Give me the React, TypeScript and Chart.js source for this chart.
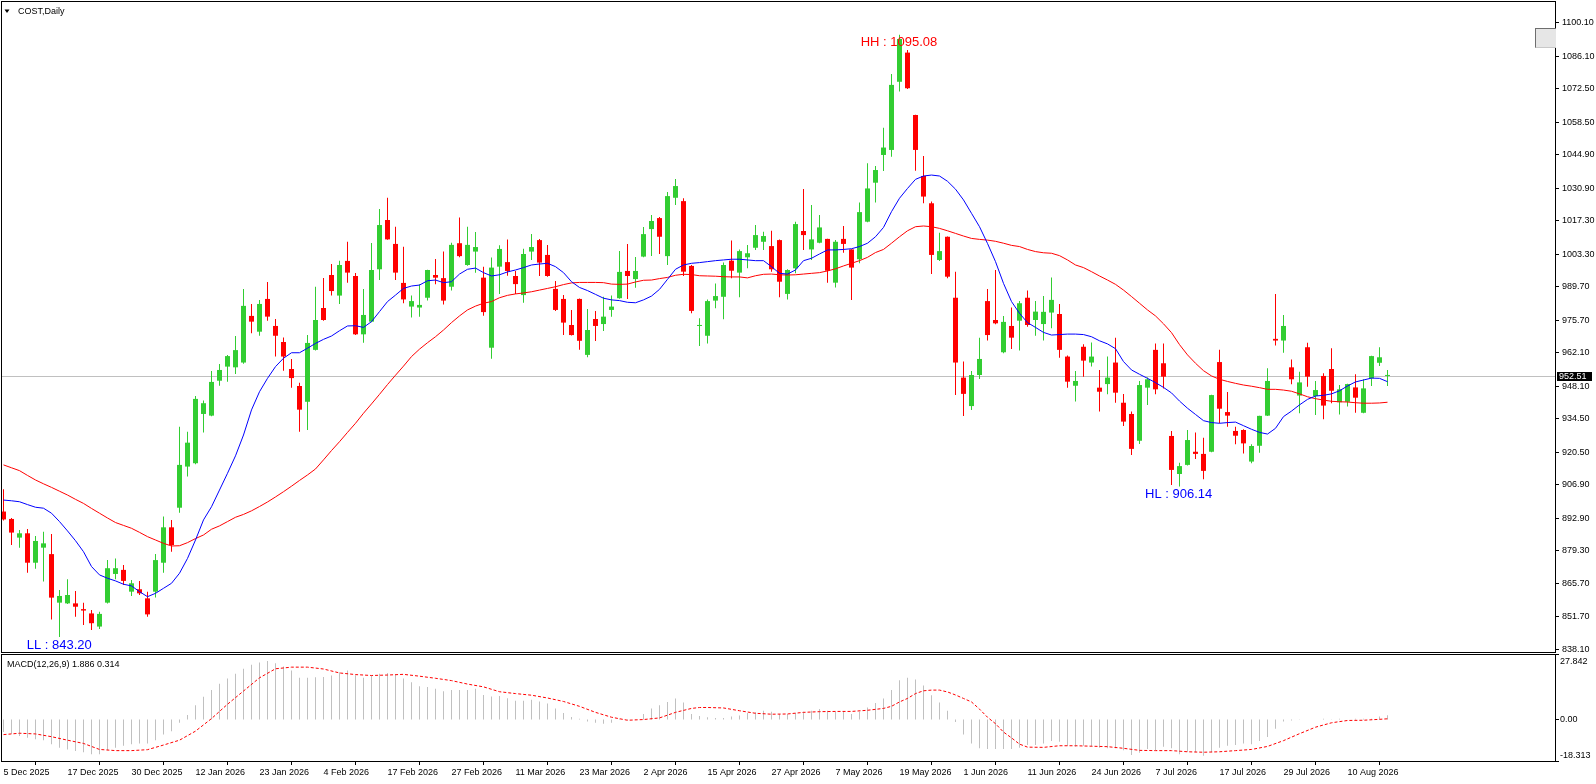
import React, { useEffect, useRef } from 'react';
import Chart from 'chart.js/auto';

const FONT = "'Liberation Sans', Arial, sans-serif";
const BULL = '#32CD32';
const BEAR = '#FF0000';

// one date label every 8 bars, starting at bar 0
const dateTicks = [
  '5 Dec 2025', '17 Dec 2025', '30 Dec 2025', '12 Jan 2026', '23 Jan 2026', '4 Feb 2026',
  '17 Feb 2026', '27 Feb 2026', '11 Mar 2026', '23 Mar 2026', '2 Apr 2026', '15 Apr 2026',
  '27 Apr 2026', '7 May 2026', '19 May 2026', '1 Jun 2026', '11 Jun 2026', '24 Jun 2026',
  '7 Jul 2026', '17 Jul 2026', '29 Jul 2026', '10 Aug 2026',
];

const priceTicks = [
  1100.1, 1086.1, 1072.5, 1058.5, 1044.9, 1030.9, 1017.3, 1003.3, 989.7, 975.7,
  962.1, 948.1, 934.5, 920.5, 906.9, 892.9, 879.3, 865.7, 851.7, 838.1,
];

const macdTicks = [27.842, 0, -18.313];
const macdTickText = ['27.842', '0.00', '-18.313'];

const opens = [
  895.7, 892.6, 884.8, 886.6, 874.3, 880.6, 877.9, 857.6, 857.3, 857.3,
  854.9, 853.1, 847.6, 857.6, 869.6, 871.3, 862.2, 863.2, 859.4, 862.2,
  874.3, 889.1, 897.3, 914.5, 915.9, 936.5, 935.8, 950.4, 956.3, 956.0,
  958.0, 977.5, 970.9, 984.6, 973.3, 966.6, 955.3, 948.2, 941.6, 963.3,
  980.8, 994.6, 986.0, 1000.5, 994.2, 969.8, 975.1, 997.0, 1017.6, 1007.6,
  991.3, 981.4, 981.0, 985.1, 994.6, 993.3, 989.7, 1007.9, 998.8, 1004.4,
  993.5, 964.2, 998.1, 1000.0, 994.2, 986.2, 1004.4, 1009.2, 1003.0, 988.8,
  984.6, 973.7, 984.6, 961.2, 976.2, 974.1, 980.0, 984.9, 996.3, 992.9,
  1002.3, 1013.8, 1018.4, 1002.5, 1026.9, 1025.5, 998.4, 973.3, 969.2, 983.9,
  985.5, 1000.6, 995.6, 1002.0, 1006.0, 1008.5, 1006.7, 1009.2, 986.7, 997.4,
  1013.0, 1005.3, 1008.1, 1009.7, 991.4, 1009.7, 1005.3, 1001.2, 1016.9, 1033.2,
  1044.8, 1046.9, 1075.4, 1087.6, 1061.5, 1036.0, 1024.6, 1000.9, 1010.6, 985.1,
  951.7, 939.8, 952.8, 983.7, 975.8, 962.3, 973.3, 975.5, 985.1, 975.8,
  974.1, 978.9, 978.3, 960.5, 948.3, 964.6, 958.0, 947.5, 949.0, 958.0,
  941.2, 936.5, 925.3, 947.5, 963.3, 957.7, 927.3, 911.4, 915.2, 920.7,
  919.8, 920.7, 958.2, 937.3, 929.4, 929.8, 916.6, 923.2, 935.8, 967.9,
  967.2, 956.0, 944.2, 964.4, 944.0, 952.4, 955.3, 941.4, 941.6, 947.6,
  937.0, 951.4, 957.9, 952.4,
];

const highs = [
  905.0, 893.0, 888.0, 888.4, 885.5, 887.2, 886.3, 862.9, 867.4, 862.5,
  857.6, 854.5, 853.8, 875.4, 876.1, 873.3, 867.1, 866.7, 862.2, 877.9,
  893.6, 892.2, 931.2, 929.1, 944.0, 942.1, 954.5, 957.4, 961.2, 969.1,
  988.8, 982.5, 984.2, 991.7, 976.2, 968.5, 959.5, 949.6, 969.5, 989.7,
  993.4, 999.2, 1000.6, 1008.5, 995.4, 988.8, 1008.0, 1022.2, 1026.9, 1014.8,
  1006.4, 986.0, 990.7, 996.8, 1001.3, 1004.4, 1008.1, 1018.6, 1014.8, 1012.6,
  998.1, 1001.9, 1007.0, 1009.4, 996.3, 1005.6, 1011.7, 1009.7, 1007.2, 992.1,
  986.2, 980.0, 984.8, 980.4, 979.6, 985.5, 986.0, 1004.6, 1007.6, 1002.1,
  1014.7, 1019.7, 1018.9, 1029.3, 1034.7, 1026.7, 998.8, 976.5, 984.4, 991.1,
  999.8, 1009.0, 1005.3, 1007.2, 1015.5, 1012.7, 1013.1, 1009.4, 997.0, 1016.9,
  1030.6, 1023.9, 1019.7, 1009.8, 1009.2, 1015.1, 1005.4, 1024.9, 1041.3, 1040.2,
  1056.2, 1078.7, 1095.08, 1088.7, 1061.6, 1044.4, 1025.3, 1012.3, 1010.7, 996.0,
  958.4, 954.5, 968.4, 988.8, 996.7, 977.5, 981.0, 983.7, 988.1, 983.7,
  985.8, 993.6, 982.5, 960.9, 954.5, 965.6, 966.4, 954.9, 960.5, 968.4,
  944.9, 937.5, 950.3, 951.7, 966.0, 966.0, 929.4, 916.1, 929.8, 928.7,
  926.6, 944.5, 963.3, 945.7, 931.2, 930.1, 923.8, 935.8, 955.6, 986.7,
  977.9, 959.3, 954.2, 966.3, 950.3, 953.5, 964.0, 948.6, 949.1, 953.1,
  951.0, 960.8, 964.4, 954.9,
];

const lows = [
  892.0, 881.7, 880.6, 870.1, 871.8, 866.4, 850.6, 843.2, 857.0, 851.7,
  848.3, 846.2, 846.6, 857.3, 867.4, 865.0, 860.4, 860.8, 851.7, 859.8,
  870.1, 878.9, 895.2, 910.3, 915.5, 928.7, 935.5, 948.3, 950.0, 953.2,
  957.5, 970.2, 969.2, 975.5, 960.5, 954.6, 947.5, 929.1, 929.8, 963.0,
  975.5, 986.0, 982.5, 991.4, 969.5, 966.3, 974.8, 992.5, 1009.3, 992.5,
  982.8, 976.8, 977.2, 983.9, 990.7, 982.3, 988.1, 1002.0, 998.5, 995.6,
  977.6, 959.6, 986.7, 994.3, 986.7, 983.0, 1000.9, 994.2, 993.9, 979.6,
  969.5, 969.3, 963.3, 960.2, 967.0, 971.2, 977.2, 984.7, 984.6, 989.3,
  1002.0, 1002.5, 1003.4, 998.8, 1023.9, 994.2, 978.6, 964.9, 966.0, 980.7,
  976.1, 993.2, 985.3, 997.4, 1005.1, 1005.1, 996.0, 985.3, 984.4, 995.3,
  1005.1, 1000.9, 1007.9, 991.4, 989.4, 1003.9, 984.2, 999.5, 1016.7, 1024.9,
  1038.1, 1044.1, 1071.3, 1072.4, 1038.2, 1024.6, 995.0, 1000.5, 993.2, 944.4,
  935.6, 938.2, 951.1, 967.2, 974.0, 961.9, 963.7, 963.0, 973.0, 969.2,
  967.2, 972.3, 960.0, 947.5, 941.7, 952.1, 956.3, 937.5, 944.7, 941.2,
  931.5, 919.3, 923.9, 940.3, 944.7, 947.2, 906.8, 906.14, 914.9, 917.7,
  909.2, 920.5, 932.6, 931.2, 923.8, 920.0, 915.9, 920.3, 935.6, 965.1,
  962.1, 948.9, 936.8, 947.9, 936.1, 934.3, 941.0, 936.3, 939.6, 937.0,
  936.8, 948.2, 956.6, 948.2,
];

const closes = [
  892.4, 886.9, 886.6, 874.3, 883.4, 882.4, 859.7, 860.4, 860.8, 855.9,
  854.3, 849.0, 852.9, 872.0, 872.0, 866.7, 865.7, 861.5, 852.7, 875.4,
  889.1, 881.7, 915.2, 924.5, 942.8, 941.0, 949.9, 954.9, 960.7, 963.2,
  981.7, 975.1, 982.5, 977.2, 969.2, 960.5, 951.5, 938.3, 966.2, 975.8,
  975.8, 987.9, 998.8, 995.6, 969.8, 977.9, 996.7, 1015.5, 1009.5, 995.6,
  984.4, 983.7, 982.1, 996.7, 993.5, 983.9, 1007.2, 1002.5, 1007.2, 1006.3,
  979.1, 997.7, 1005.5, 996.3, 990.8, 1003.4, 1006.3, 999.8, 994.2, 980.0,
  974.7, 969.5, 967.1, 971.6, 973.3, 977.2, 981.4, 995.9, 994.2, 996.3,
  1011.7, 1017.2, 1010.6, 1027.6, 1031.8, 996.0, 979.6, 973.7, 983.7, 985.8,
  998.8, 996.4, 1004.6, 1003.7, 1011.3, 1010.9, 997.0, 991.8, 996.7, 1015.9,
  1011.3, 1009.5, 1014.5, 996.4, 1008.5, 1007.6, 997.7, 1020.9, 1030.8, 1038.5,
  1047.9, 1074.1, 1093.3, 1072.7, 1046.9, 1027.4, 1003.0, 1004.6, 993.9, 958.0,
  944.9, 952.8, 959.5, 969.5, 974.4, 975.0, 968.4, 982.8, 973.7, 979.3,
  979.2, 984.2, 963.3, 950.0, 950.3, 958.8, 960.5, 945.8, 951.7, 945.4,
  933.3, 921.9, 948.6, 951.0, 946.8, 952.1, 913.1, 914.7, 925.6, 919.8,
  912.7, 944.4, 938.7, 935.8, 927.4, 924.2, 923.1, 935.7, 950.3, 967.2,
  973.3, 951.0, 949.7, 952.1, 946.5, 940.0, 946.2, 946.8, 949.0, 943.3,
  947.2, 960.7, 960.2, 952.51,
];

// blue (fast) moving average
const fastMa = [
  900.5, 900.2, 899.8, 898.6, 897.5, 897.1, 895.0, 891.5, 887.6, 883.5,
  878.9, 872.7, 869.2, 867.8, 866.7, 865.3, 864.6, 862.2, 860.1, 861.5,
  863.6, 865.7, 869.9, 876.1, 883.8, 892.2, 897.7, 904.7, 911.7, 919.0,
  927.7, 938.2, 945.8, 951.4, 956.3, 959.8, 962.1, 962.1, 964.0, 966.0,
  967.7, 969.1, 971.3, 973.3, 973.4, 972.7, 975.1, 979.3, 983.5, 986.2,
  989.0, 990.0, 990.4, 992.2, 992.5, 991.4, 991.8, 995.0, 997.0, 997.5,
  995.6, 994.2, 994.7, 995.9, 996.7, 997.7, 998.8, 999.2, 999.5, 998.1,
  995.6, 991.8, 989.4, 988.1, 986.5, 984.9, 984.2, 983.9, 983.2, 983.0,
  984.2, 985.8, 988.6, 992.8, 997.0, 998.8, 999.5, 999.8, 1000.2, 1000.6,
  1000.9, 1001.2, 1001.2, 1000.9, 1000.6, 1000.6, 998.1, 995.3, 995.0, 996.7,
  1000.6, 1001.6, 1003.4, 1005.1, 1005.1, 1005.3, 1005.6, 1006.5, 1007.9, 1010.6,
  1014.5, 1021.1, 1026.7, 1030.8, 1034.6, 1036.0, 1036.4, 1036.0, 1033.8, 1030.5,
  1026.0, 1020.4, 1014.8, 1007.8, 1000.2, 991.1, 983.5, 978.6, 974.7, 972.7,
  970.6, 969.5, 969.7, 969.9, 969.9, 969.7, 968.8, 967.1, 965.8, 963.8,
  958.4, 954.9, 953.1, 951.4, 949.6, 947.6, 945.3, 941.9, 938.9, 936.3,
  933.7, 932.9, 932.6, 932.9, 933.1, 931.6, 930.1, 928.8, 928.1, 930.5,
  935.4, 937.7, 940.3, 942.6, 944.0, 944.3, 944.9, 946.2, 948.2, 949.9,
  950.7, 951.5, 951.4, 950.0,
];

// red (slow) moving average
const slowMa = [
  915.2, 914.0, 912.8, 910.8, 908.9, 907.3, 905.8, 904.2, 902.6, 900.8,
  899.1, 897.0, 895.0, 893.0, 891.1, 889.9, 888.7, 887.0, 885.2, 883.8,
  882.4, 881.3, 881.4, 882.7, 884.4, 885.9, 888.3, 889.7, 891.5, 893.3,
  894.5, 896.0, 897.8, 899.7, 901.8, 904.0, 906.3, 908.7, 911.0, 913.5,
  917.3, 921.2, 924.9, 928.8, 932.6, 936.8, 940.7, 944.7, 948.8, 952.7,
  956.5, 960.5, 963.6, 966.3, 968.8, 971.6, 974.7, 977.5, 980.0, 981.6,
  982.8, 983.5, 985.1, 986.1, 986.7, 987.1, 987.6, 988.3, 989.0, 989.7,
  990.6, 991.3, 991.5, 991.5, 991.5, 991.4, 990.8, 990.7, 990.8, 991.7,
  992.4, 992.5, 993.1, 993.6, 994.5, 994.9, 994.8, 994.3, 994.2, 994.1,
  993.9, 993.8, 993.8, 993.4, 994.3, 994.9, 995.0, 994.7, 994.6, 994.7,
  995.0, 995.3, 995.6, 996.3, 997.2, 998.4, 999.5, 1000.6, 1002.0, 1004.0,
  1005.3, 1007.9, 1010.6, 1013.1, 1014.8, 1015.1, 1014.8, 1014.1, 1013.1, 1012.0,
  1010.9, 1009.9, 1009.5, 1009.2, 1008.7, 1007.9, 1007.0, 1006.5, 1005.3, 1004.4,
  1003.9, 1003.7, 1002.7, 1000.9, 998.8, 997.7, 996.0, 994.2, 992.5, 990.7,
  988.3, 985.6, 982.8, 980.0, 977.5, 974.2, 970.5, 965.5, 961.2, 957.7,
  954.6, 952.4, 951.0, 950.1, 949.3, 948.6, 948.1, 947.5, 946.8, 946.8,
  946.5, 946.0, 944.9, 943.7, 942.9, 942.3, 941.8, 941.6, 941.5, 941.2,
  941.0, 941.0, 941.1, 941.4,
];

const macdHist = [
  -5.4, -6.1, -7.1, -7.9, -8.5, -8.9, -10.7, -12.2, -12.9, -13.6,
  -14.1, -15.0, -15.0, -13.2, -12.2, -11.3, -10.7, -10.3, -10.3, -8.9,
  -6.5, -5.1, -1.4, 2.0, 6.2, 9.8, 12.7, 15.4, 17.7, 19.8,
  21.9, 23.6, 24.6, 25.3, 24.3, 22.9, 21.2, 18.0, 18.0, 18.2,
  18.4, 19.0, 20.4, 21.2, 19.1, 18.0, 19.0, 19.8, 20.1, 19.4,
  17.7, 16.1, 14.4, 14.0, 13.3, 12.2, 12.7, 12.7, 12.7, 13.3,
  10.6, 9.9, 10.2, 9.2, 8.1, 8.1, 8.5, 7.8, 6.9, 4.8,
  2.8, 1.1, 0.3, -0.8, -1.4, -1.8, -1.4, 0.3, -0.3, -0.1,
  2.4, 4.8, 6.2, 7.6, 9.1, 7.4, 2.4, 1.5, 1.0, 0.7,
  0.7, 1.3, 1.7, 2.8, 3.1, 3.8, 3.4, 2.4, 2.4, 2.8,
  3.4, 3.8, 4.5, 3.8, 3.4, 3.4, 2.4, 3.4, 5.2, 7.1,
  9.1, 12.7, 17.0, 18.0, 17.3, 14.7, 10.5, 7.4, 3.8, -1.1,
  -6.5, -10.3, -12.4, -12.7, -12.7, -12.7, -12.7, -12.2, -11.0, -11.0,
  -10.3, -9.3, -9.6, -11.3, -11.7, -11.3, -11.7, -12.2, -12.4, -12.4,
  -13.2, -15.3, -14.3, -12.7, -13.2, -11.7, -12.4, -15.0, -13.9, -14.1,
  -15.6, -14.1, -12.2, -11.3, -11.0, -10.3, -10.7, -9.3, -7.5, -4.0,
  -0.8, -0.4, -0.1, 0.0, 0.0, 0.3, 0.1, 0.3, 0.0, 0.3,
  0.3, 0.3, 1.3, 1.886,
];

// signal line, read every other bar where the dots were legible
const macdSignal = [
  -6.5, null, -5.9, null, -6.2, null, -7.4, null, -8.9, null,
  -10.3, null, -12.9, null, -13.4, null, -13.4, null, -13.0, null,
  -11.0, null, -8.9, null, -5.0, null, 0.4, null, 6.6, null,
  12.3, null, 18.0, null, 21.9, null, 22.6, null, 22.6, null,
  21.8, null, 20.1, null, 19.4, null, 19.0, null, 19.2, null,
  19.5, null, 18.7, null, 17.8, null, 16.8, null, 15.3, null,
  14.1, null, 12.0, null, 11.2, null, 10.5, null, 9.3, null,
  7.8, null, 5.7, null, 3.1, null, 1.0, null, -0.3, null,
  0.0, null, 0.7, null, 3.1, null, 4.8, 5.2, 5.2, null,
  5.0, null, 3.8, null, 2.7, null, 2.3, null, 2.4, null,
  3.1, null, 3.4, null, 3.5, null, 3.5, null, 4.0, null,
  4.8, 5.7, 7.6, 9.1, 11.2, 12.4, 12.7, 12.7, 11.9, 10.6,
  9.1, 7.6, 4.5, 1.0, -1.8, -5.4, -7.9, -10.6, -11.9, null,
  -12.0, null, -11.3, null, -11.3, null, -11.5, null, -11.7, null,
  -12.4, null, -13.3, null, -13.4, null, -13.4, null, -13.9, null,
  -14.1, null, -13.9, null, -13.4, null, -12.9, null, -11.6, null,
  -9.1, null, -6.1, null, -3.3, null, -1.4, null, -0.4, null,
  -0.3, null, 0.1, 0.314,
];

const lastPrice = 952.51;

// text objects anchored at (bar index, price of baseline)
const notes = [
  { text: 'HH : 1095.08', bar: 107.15, price: 1090.4, color: '#FF0000' },
  { text: 'HL : 906.14', bar: 142.7, price: 901.2, color: '#0000FF' },
  { text: 'LL : 843.20', bar: 2.9, price: 838.3, color: '#0000FF' },
];

const X_MIN = -0.1875;
const X_MAX = 194.0625;

const candleColors = closes.map((c, i) => (c >= opens[i] ? BULL : BEAR));
const toPoints = (arr: (number | null)[]) => arr.map((y, x) => ({ x, y }));

const mainDecor = {
  id: 'mainDecor',
  beforeDatasetsDraw(chart: any) {
    const { ctx, chartArea: a, scales } = chart;
    const py = Math.round(scales.y.getPixelForValue(lastPrice)) + 0.5;
    ctx.save();
    ctx.strokeStyle = '#C0C0C0';
    ctx.lineWidth = 1;
    ctx.beginPath();
    ctx.moveTo(a.left, py);
    ctx.lineTo(a.right, py);
    ctx.stroke();
    ctx.restore();
  },
  afterDraw(chart: any) {
    const { ctx, chartArea: a, scales } = chart;
    ctx.save();
    ctx.strokeStyle = '#000';
    ctx.lineWidth = 1;
    ctx.strokeRect(a.left - 0.5, a.top - 0.5, a.right - a.left, a.bottom - a.top);

    ctx.textAlign = 'left';
    ctx.textBaseline = 'alphabetic';
    ctx.font = `13px ${FONT}`;
    notes.forEach((n) => {
      ctx.fillStyle = n.color;
      ctx.fillText(n.text, scales.x.getPixelForValue(n.bar), scales.y.getPixelForValue(n.price));
    });

    ctx.fillStyle = '#000';
    ctx.beginPath();
    ctx.moveTo(4.5, 9.5);
    ctx.lineTo(9.5, 9.5);
    ctx.lineTo(7, 13);
    ctx.closePath();
    ctx.fill();
    ctx.font = `9px ${FONT}`;
    ctx.textBaseline = 'middle';
    ctx.fillText('COST,Daily', 18, 12);

    const py = Math.round(scales.y.getPixelForValue(lastPrice));
    ctx.fillRect(a.right + 1, py - 4, 35, 9);
    ctx.fillStyle = '#fff';
    ctx.fillText(lastPrice.toFixed(2), a.right + 3, py + 0.5);
    ctx.restore();
  },
};

const macdDecor = {
  id: 'macdDecor',
  afterDraw(chart: any) {
    const { ctx, chartArea: a, scales } = chart;
    const last = macdHist.length - 1;
    ctx.save();
    ctx.strokeStyle = '#000';
    ctx.lineWidth = 1;
    ctx.strokeRect(a.left - 0.5, a.top - 0.5, a.right - a.left, a.bottom - a.top);
    ctx.fillStyle = '#000';
    ctx.font = `9px ${FONT}`;
    ctx.textAlign = 'left';
    ctx.textBaseline = 'middle';
    ctx.fillText(
      `MACD(12,26,9) ${macdHist[last].toFixed(3)} ${(macdSignal[last] as number).toFixed(3)}`,
      7,
      a.top + 10,
    );
    macdTicks.forEach((v, k) => {
      const py = scales.y.getPixelForValue(v);
      ctx.fillRect(a.right, Math.round(py) - 1, 3, 1);
      const ty = Math.min(Math.max(py, a.top + 7), a.bottom - 6);
      ctx.fillText(macdTickText[k], a.right + 4, ty);
    });
    ctx.restore();
  },
};

const axisFont = { family: FONT, size: 9 };

const MainPanel: React.FC = () => {
  const canvasRef = useRef<HTMLCanvasElement>(null);

  useEffect(() => {
    if (!canvasRef.current) return;
    const chart = new Chart(canvasRef.current, {
      type: 'bar',
      data: {
        datasets: [
          {
            type: 'line',
            data: toPoints(fastMa),
            borderColor: '#0000FF',
            borderWidth: 1,
            pointRadius: 0,
            fill: false,
            spanGaps: true,
            order: 0,
          },
          {
            type: 'line',
            data: toPoints(slowMa),
            borderColor: '#FF0000',
            borderWidth: 1,
            pointRadius: 0,
            fill: false,
            spanGaps: true,
            order: 0,
          },
          {
            type: 'bar',
            data: opens.map((o, i) => ({ x: i, y: [o, closes[i]] })),
            backgroundColor: candleColors,
            borderWidth: 0,
            maxBarThickness: 5,
            minBarLength: 1,
            grouped: false,
            inflateAmount: 0,
            order: 1,
          },
          {
            type: 'bar',
            data: lows.map((l, i) => ({ x: i, y: [l, highs[i]] })),
            backgroundColor: candleColors,
            borderWidth: 0,
            maxBarThickness: 1,
            grouped: false,
            inflateAmount: 0,
            order: 2,
          },
        ],
      } as any,
      options: {
        animation: false,
        responsive: false,
        maintainAspectRatio: false,
        events: [],
        layout: { padding: { left: 2, top: 2, right: 0, bottom: 1 } },
        plugins: { legend: { display: false }, tooltip: { enabled: false } },
        scales: {
          x: { type: 'linear', min: X_MIN, max: X_MAX, offset: false, display: false },
          y: {
            position: 'right',
            min: 836.55,
            max: 1108.76,
            afterBuildTicks: (s: any) => {
              s.ticks = priceTicks.map((v) => ({ value: v }));
            },
            afterFit: (s: any) => {
              s.width = 40;
              s.paddingTop = 0;
              s.paddingBottom = 0;
            },
            grid: { drawOnChartArea: false, tickLength: 3, color: '#000' },
            border: { display: false },
            ticks: {
              autoSkip: false,
              padding: 3,
              color: '#000',
              font: axisFont,
              callback: (v: any) => Number(v).toFixed(2),
            },
          },
        },
      } as any,
      plugins: [mainDecor],
    });
    return () => chart.destroy();
  }, []);

  return (
    <div style={{ position: 'absolute', left: 0, top: 0, width: 1596, height: 654 }}>
      <canvas ref={canvasRef} width={1596} height={654} />
    </div>
  );
};

const MacdPanel: React.FC = () => {
  const canvasRef = useRef<HTMLCanvasElement>(null);

  useEffect(() => {
    if (!canvasRef.current) return;
    const chart = new Chart(canvasRef.current, {
      type: 'bar',
      data: {
        datasets: [
          {
            type: 'line',
            data: toPoints(macdSignal),
            borderColor: '#FF0000',
            borderWidth: 1,
            borderDash: [3, 2],
            pointRadius: 0,
            fill: false,
            spanGaps: true,
            order: 0,
          },
          {
            type: 'bar',
            data: toPoints(macdHist),
            backgroundColor: '#C0C0C0',
            borderWidth: 0,
            maxBarThickness: 1,
            grouped: false,
            inflateAmount: 0,
            order: 1,
          },
        ],
      } as any,
      options: {
        animation: false,
        responsive: false,
        maintainAspectRatio: false,
        events: [],
        layout: { padding: { left: 2, top: 2, right: 0, bottom: 0 } },
        plugins: { legend: { display: false }, tooltip: { enabled: false } },
        scales: {
          x: {
            type: 'linear',
            min: X_MIN,
            max: X_MAX,
            offset: false,
            afterBuildTicks: (s: any) => {
              s.ticks = dateTicks.map((_, k) => ({ value: k * 8 }));
            },
            afterFit: (s: any) => {
              s.height = 22;
              s.paddingLeft = 0;
              s.paddingRight = 0;
            },
            grid: { drawOnChartArea: false, tickLength: 3, color: '#000' },
            border: { display: false },
            ticks: {
              align: 'start',
              padding: 2,
              autoSkip: false,
              maxRotation: 0,
              color: '#000',
              font: axisFont,
              callback: (v: any) => dateTicks[Math.round(Number(v) / 8)] ?? '',
            },
          },
          y: {
            position: 'right',
            min: -18.313,
            max: 27.842,
            afterFit: (s: any) => {
              s.width = 40;
              s.paddingTop = 0;
              s.paddingBottom = 0;
            },
            grid: { display: false },
            border: { display: false },
            ticks: { display: false },
          },
        },
      } as any,
      plugins: [macdDecor],
    });
    return () => chart.destroy();
  }, []);

  return (
    <div style={{ position: 'absolute', left: 0, top: 653, width: 1596, height: 131 }}>
      <canvas ref={canvasRef} width={1596} height={131} />
    </div>
  );
};

export default function App() {
  return (
    <div
      style={{
        position: 'fixed',
        left: 0,
        top: 0,
        width: 1596,
        height: 784,
        background: '#fff',
        overflow: 'hidden',
      }}
    >
      <MainPanel />
      <MacdPanel />
      <div
        style={{
          position: 'absolute',
          left: 1535,
          top: 28,
          width: 21,
          height: 20,
          boxSizing: 'border-box',
          background: '#E6E6E6',
          borderTop: '1px solid #6E6E6E',
          borderLeft: '1px solid #6E6E6E',
          borderBottom: '1px solid #C8C8C8',
        }}
      />
    </div>
  );
}
